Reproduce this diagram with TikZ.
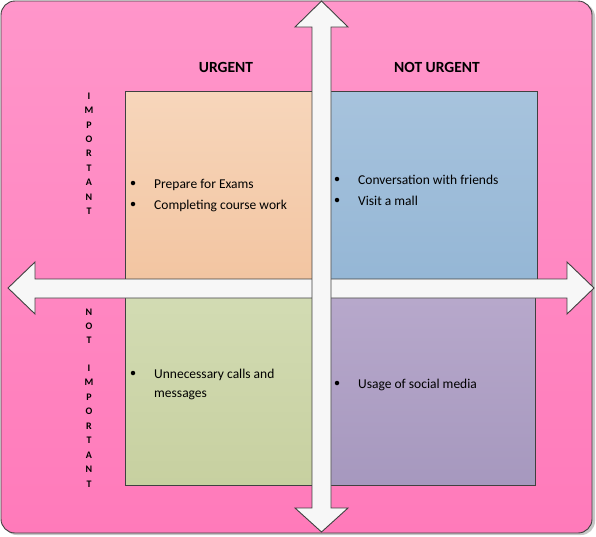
\documentclass[tikz,border=0pt]{standalone}
\usepackage{fontspec}
\setmainfont{Carlito}
\definecolor{pinktop}{RGB}{255,150,202}
\definecolor{pinkbot}{RGB}{255,122,186}
\definecolor{peachtop}{RGB}{247,214,187}
\definecolor{peachbot}{RGB}{242,196,160}
\definecolor{bluetop}{RGB}{167,195,221}
\definecolor{bluebot}{RGB}{148,182,213}
\definecolor{sagetop}{RGB}{211,220,180}
\definecolor{sagebot}{RGB}{199,208,160}
\definecolor{lilactop}{RGB}{184,169,204}
\definecolor{lilacbot}{RGB}{166,152,190}
\definecolor{edgegray}{RGB}{64,64,64}
\definecolor{arrowfill}{RGB}{247,247,247}
\tikzset{
  quadbox/.style={draw=edgegray, line width=0.9pt, inner sep=0, anchor=north west},
  itemtext/.style={anchor=base west, inner sep=0, font=\fontsize{13.5}{15}\selectfont},
  itemdot/.style={circle, fill=black, inner sep=0, minimum size=4.5pt},
  heading/.style={anchor=base, inner sep=0, font=\fontsize{15.5}{16}\selectfont\bfseries},
  stackletter/.style={inner sep=0, font=\fontsize{10}{10}\selectfont\bfseries},
  bigarrow/.style={fill=arrowfill, draw=edgegray, line width=0.9pt, line join=miter},
}
\begin{document}
\begin{tikzpicture}[x=1pt, y=-1pt]
  \useasboundingbox (0,0) rectangle (596,536);
  % frame
  \fill[gray!45, rounded corners=14pt] (3,3) rectangle (595,535);
  \shadedraw[top color=pinktop, bottom color=pinkbot, draw=edgegray, line width=0.9pt, rounded corners=14pt] (1,1) rectangle (592,533);

  % quadrants
  \node[quadbox, top color=peachtop, bottom color=peachbot, minimum width=196pt, minimum height=197pt] (urgimp) at (125,91) {};
  \node[quadbox, top color=bluetop, bottom color=bluebot, minimum width=216pt, minimum height=197pt] (noturgimp) at (321,91) {};
  \node[quadbox, top color=sagetop, bottom color=sagebot, minimum width=196pt, minimum height=197pt] (urgnotimp) at (125,288) {};
  \node[quadbox, top color=lilactop, bottom color=lilacbot, minimum width=214pt, minimum height=197pt] (noturgnotimp) at (321,288) {};

  % axes
  \filldraw[bigarrow] (8,288) -- (35,262) -- (35,279) -- (567,279) -- (567,262) -- (594,288)
    -- (567,314) -- (567,298) -- (35,298) -- (35,314) -- cycle;
  \filldraw[bigarrow] (321.5,1) -- (348,27) -- (331,27) -- (331,508) -- (348,508) -- (321.5,532)
    -- (295,508) -- (312,508) -- (312,27) -- (295,27) -- cycle;

  % headings
  \node[heading] (urgent) at (226,72) {URGENT};
  \node[heading] (noturgent) at (437,72) {NOT URGENT};
  \foreach \ch [count=\i] in {I,M,P,O,R,T,A,N,T}
    \node[stackletter] (imp\i) at (89,{96+14.4*(\i-1)}) {\ch};
  \foreach \ch [count=\i] in {N,O,T}
    \node[stackletter] (notw\i) at (89,{312+14.3*(\i-1)}) {\ch};
  \foreach \ch [count=\i] in {I,M,P,O,R,T,A,N,T}
    \node[stackletter] (nimp\i) at (89,{368+14.5*(\i-1)}) {\ch};

  % items
  \node[itemdot] (d1) at (133,183) {};
  \node[itemtext] (t1) at (154,188) {Prepare for Exams};
  \node[itemdot] (d2) at (133,204) {};
  \node[itemtext] (t2) at (154,209) {Completing course work};
  \node[itemdot] (d3) at (337,179) {};
  \node[itemtext] (t3) at (358,184) {Conversation with friends};
  \node[itemdot] (d4) at (337,200) {};
  \node[itemtext] (t4) at (358,205) {Visit a mall};
  \node[itemdot] (d5) at (133,373) {};
  \node[itemtext] (t5) at (154,378) {Unnecessary calls and};
  \node[itemtext] (t5b) at (154,397) {messages};
  \node[itemdot] (d6) at (337,383) {};
  \node[itemtext] (t6) at (358,388) {Usage of social media};
\end{tikzpicture}
\end{document}
